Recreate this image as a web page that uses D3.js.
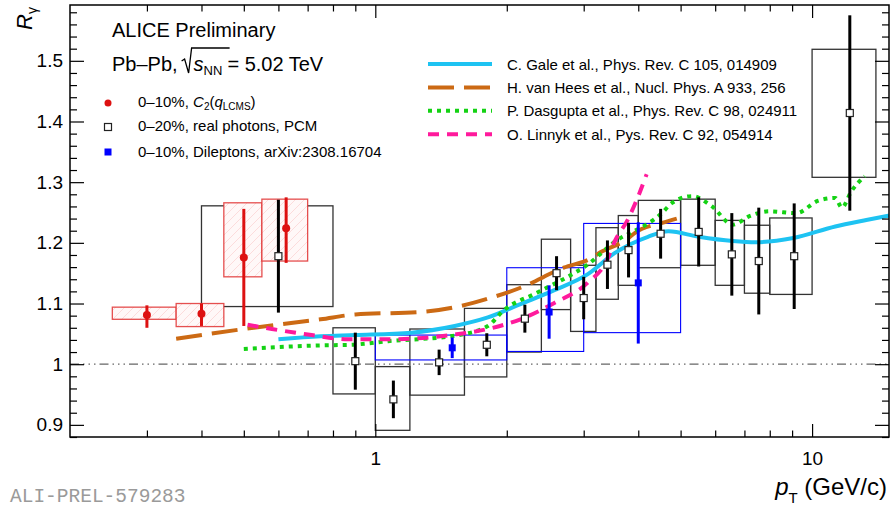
<!DOCTYPE html>
<html><head><meta charset="utf-8">
<script src="https://cdn.jsdelivr.net/npm/d3@7"></script>
<style>
body{margin:0;background:#fff}
text{font-family:"Liberation Sans",Arial,Helvetica,sans-serif;fill:#000}
</style>
</head><body>
<svg id="c" width="895" height="507"></svg>
<script>
// ---------------- data ----------------
// ALICE PCM real photons, 0-20%
const pcmX     = [0.6, 0.9, 1.1, 1.4, 1.8, 2.2, 2.6, 3.0, 3.4, 3.8, 4.5, 5.5, 6.55, 7.55, 9.1, 12.2];
const pcmBinLo = [0.4, 0.8, 1.0, 1.2, 1.6, 2.0, 2.4, 2.8, 3.2, 3.6, 4.0, 5.0, 6.0, 7.0, 8.0, 10];
const pcmBinHi = [0.8, 1.0, 1.2, 1.6, 2.0, 2.4, 2.8, 3.2, 3.6, 4.0, 5.0, 6.0, 7.0, 8.0, 10, 14];
const pcmY     = [1.178,1.005,0.942,1.003,1.032,1.075,1.150,1.109,1.164,1.188,1.215,1.218,1.181,1.170,1.178,1.414];
const pcmStat  = [0.093,0.047,0.031,0.021,0.019,0.023,0.028,0.035,0.040,0.045,0.041,0.057,0.068,0.088,0.087,0.161];
const pcmSysLo = [1.095,0.951,0.891,0.949,0.979,1.020,1.090,1.054,1.107,1.130,1.159,1.163,1.130,1.117,1.115,1.308];
const pcmSysHi = [1.261,1.060,0.996,1.058,1.092,1.131,1.206,1.163,1.225,1.245,1.270,1.272,1.237,1.229,1.241,1.519];

// C2(q_LCMS), 0-10%
const c2X      = [0.30, 0.40, 0.50, 0.625];
const c2BinLo  = [0.25, 0.35, 0.45, 0.55];
const c2BinHi  = [0.35, 0.45, 0.55, 0.70];
const c2Y      = [1.081, 1.083, 1.176, 1.224];
const c2StatUp = [0.016, 0.017, 0.080, 0.051];
const c2StatDn = [0.021, 0.020, 0.113, 0.057];
const c2SysLo  = [1.074, 1.062, 1.144, 1.170];
const c2SysHi  = [1.094, 1.100, 1.266, 1.272];

// Dileptons, 0-10%
const dilX     = [1.5, 2.5, 4.0];
const dilBinLo = [1, 2, 3];
const dilBinHi = [2, 3, 5];
const dilY     = [1.027, 1.086, 1.134];
const dilStat  = [0.017, 0.044, 0.100];
const dilSysLo = [1.007, 1.021, 1.052];
const dilSysHi = [1.048, 1.159, 1.232];

// theory curves [pT, R_gamma]
const galeCurve = [[0.60,1.041],[0.75,1.046],[0.90,1.048],[1.21,1.052],[1.52,1.063],[1.81,1.077],[2.15,1.099],[2.57,1.122],[3.06,1.148],[3.53,1.183],[4.21,1.210],[4.69,1.219],[5.5,1.210],[6.58,1.203],[7.44,1.201],[9.06,1.208],[11.3,1.227],[13.4,1.238],[15,1.245]];
const vanHeesCurve = [[0.35,1.042],[0.50,1.058],[0.75,1.074],[0.90,1.082],[1.27,1.086],[1.57,1.096],[1.81,1.108],[2.15,1.126],[2.70,1.159],[3.13,1.175],[3.27,1.184],[3.77,1.206],[3.94,1.217],[4.54,1.233],[4.9,1.240]];
const dasguptaCurve = [[0.50,1.025],[0.75,1.031],[0.88,1.032],[1.07,1.038],[1.52,1.047],[1.81,1.063],[1.97,1.089],[2.35,1.118],[3.06,1.164],[3.64,1.208],[3.86,1.217],[4.53,1.249],[4.78,1.266],[5.31,1.277],[5.9,1.260],[6.58,1.230],[7.19,1.244],[7.99,1.252],[9.2,1.249],[10.3,1.269],[11.3,1.274],[11.7,1.258],[12.3,1.285],[13.2,1.310]];
const linnykCurve = [[0.51,1.065],[0.58,1.058],[0.715,1.048],[0.866,1.041],[1.07,1.041],[1.52,1.049],[1.81,1.058],[2.15,1.074],[2.57,1.101],[3.06,1.134],[3.40,1.173],[3.52,1.200],[3.79,1.239],[4.0,1.277],[4.18,1.313]];

const yMajorTicks = [0.9, 1.0, 1.1, 1.2, 1.3, 1.4, 1.5];
const yTickLabels = ["0.9", "1", "1.1", "1.2", "1.3", "1.4", "1.5"];
const xMajorTicks = [1, 10];
const xTickLabels = ["1", "10"];
const xMinorTicks = [0.3,0.4,0.5,0.6,0.7,0.8,0.9,2,3,4,5,6,7,8,9];

const modelLabels = ["C. Gale et al., Phys. Rev. C 105, 014909",
                     "H. van Hees et al., Nucl. Phys. A 933, 256",
                     "P. Dasgupta et al., Phys. Rev. C 98, 024911",
                     "O. Linnyk et al., Pys. Rev. C 92, 054914"];

// ---------------- chart ----------------
const svg = d3.select("#c");
const L = 70, R = 889, T = 5, B = 437;
const x = d3.scaleLog().domain([0.2, 15]).range([L, R]);
const y = d3.scaleLinear().domain([0.88, 1.592]).range([B, T]);

const RED = "#dd1111", BLUE = "#0000ff";
const styles = [
  {color:"#1ec3f2", width:4, dash:null},
  {color:"#cc6a14", width:4, dash:"26,10"},
  {color:"#14d214", width:4, dash:"4,5"},
  {color:"#ff1a9c", width:4, dash:"11,8"}
];
const curves = [galeCurve, vanHeesCurve, dasguptaCurve, linnykCurve];

// hatch pattern
const defs = svg.append("defs");
const pat = defs.append("pattern").attr("id","hatch").attr("patternUnits","userSpaceOnUse")
  .attr("width",9).attr("height",9);
pat.append("rect").attr("width",9).attr("height",9).attr("fill","#fff8f8");
pat.append("path").attr("d","M0,9 L9,0 M-2,2 L2,-2 M7,11 L11,7")
  .attr("stroke","#fbd0d0").attr("stroke-width",0.7);
defs.append("clipPath").attr("id","plotclip").append("rect")
  .attr("x",L).attr("y",T).attr("width",R-L).attr("height",B-T);

const plot = svg.append("g").attr("clip-path","url(#plotclip)");

// reference line at 1
plot.append("line").attr("x1",L).attr("x2",R).attr("y1",y(1)).attr("y2",y(1))
  .attr("stroke","#666").attr("stroke-width",1.2).attr("stroke-dasharray","9,4,1.5,4,1.5,4,1.5,4");

// PCM systematic boxes
plot.append("g").selectAll("rect").data(pcmX).join("rect")
  .attr("x",(d,i)=>x(pcmBinLo[i])).attr("width",(d,i)=>x(pcmBinHi[i])-x(pcmBinLo[i]))
  .attr("y",(d,i)=>y(pcmSysHi[i])).attr("height",(d,i)=>y(pcmSysLo[i])-y(pcmSysHi[i]))
  .attr("fill","none").attr("stroke","#333").attr("stroke-width",1.3);

// Dilepton boxes
plot.append("g").selectAll("rect").data(dilX).join("rect")
  .attr("x",(d,i)=>x(dilBinLo[i])).attr("width",(d,i)=>x(dilBinHi[i])-x(dilBinLo[i]))
  .attr("y",(d,i)=>y(dilSysHi[i])).attr("height",(d,i)=>y(dilSysLo[i])-y(dilSysHi[i]))
  .attr("fill","none").attr("stroke",BLUE).attr("stroke-width",1.1);

// C2 boxes
plot.append("g").selectAll("rect").data(c2X).join("rect")
  .attr("x",(d,i)=>x(c2BinLo[i])).attr("width",(d,i)=>x(c2BinHi[i])-x(c2BinLo[i]))
  .attr("y",(d,i)=>y(c2SysHi[i])).attr("height",(d,i)=>y(c2SysLo[i])-y(c2SysHi[i]))
  .attr("fill","url(#hatch)").attr("stroke","#e03030").attr("stroke-width",1.3).attr("stroke-opacity",0.85);

// curves
const line = d3.line().x(d=>x(d[0])).y(d=>y(d[1])).curve(d3.curveMonotoneX);
curves.forEach((c,i)=>{
  plot.append("path").datum(c).attr("d",line).attr("fill","none")
    .attr("stroke",styles[i].color).attr("stroke-width",styles[i].width)
    .attr("stroke-dasharray",styles[i].dash);
});

// stat error bars
plot.append("g").selectAll("line").data(c2X).join("line")
  .attr("x1",d=>x(d)).attr("x2",d=>x(d))
  .attr("y1",(d,i)=>y(c2Y[i]+c2StatUp[i])).attr("y2",(d,i)=>y(c2Y[i]-c2StatDn[i]))
  .attr("stroke",RED).attr("stroke-width",3);
plot.append("g").selectAll("line").data(pcmX).join("line")
  .attr("x1",d=>x(d)).attr("x2",d=>x(d))
  .attr("y1",(d,i)=>y(pcmY[i]+pcmStat[i])).attr("y2",(d,i)=>y(pcmY[i]-pcmStat[i]))
  .attr("stroke","#000").attr("stroke-width",3);
plot.append("g").selectAll("line").data(dilX).join("line")
  .attr("x1",d=>x(d)).attr("x2",d=>x(d))
  .attr("y1",(d,i)=>y(dilY[i]+dilStat[i])).attr("y2",(d,i)=>y(dilY[i]-dilStat[i]))
  .attr("stroke",BLUE).attr("stroke-width",3);

// markers
plot.append("g").selectAll("circle").data(c2X).join("circle")
  .attr("cx",d=>x(d)).attr("cy",(d,i)=>y(c2Y[i])).attr("r",4).attr("fill",RED);
plot.append("g").selectAll("rect").data(pcmX).join("rect")
  .attr("x",d=>x(d)-3.5).attr("y",(d,i)=>y(pcmY[i])-3.5).attr("width",7).attr("height",7)
  .attr("fill","#fff").attr("stroke","#222").attr("stroke-width",1.2);
plot.append("g").selectAll("rect").data(dilX).join("rect")
  .attr("x",d=>x(d)-3.5).attr("y",(d,i)=>y(dilY[i])-3.5).attr("width",7).attr("height",7)
  .attr("fill",BLUE);

// ---------------- axes ----------------
const yMinor = d3.range(0, 36).map(k => +(0.88 + 0.02*k).toFixed(2)).filter(v => v <= 1.59 && yMajorTicks.indexOf(v) < 0);
function axisStyle(g){ g.select(".domain").remove(); g.selectAll(".tick line").attr("stroke","#000").attr("stroke-width",1.2); }

svg.append("g").attr("transform",`translate(0,${B})`)
  .call(d3.axisBottom(x).tickValues(xMajorTicks).tickSize(-13).tickPadding(15)
        .tickFormat((d,i)=>xTickLabels[i]))
  .call(axisStyle).selectAll("text").attr("font-size",19).attr("font-family","Liberation Sans, Arial, sans-serif");
svg.append("g").attr("transform",`translate(0,${B})`)
  .call(d3.axisBottom(x).tickValues(xMinorTicks).tickSize(-6.5).tickFormat("")).call(axisStyle);
svg.append("g").attr("transform",`translate(0,${T})`)
  .call(d3.axisTop(x).tickValues(xMajorTicks).tickSize(-13).tickFormat("")).call(axisStyle);
svg.append("g").attr("transform",`translate(0,${T})`)
  .call(d3.axisTop(x).tickValues(xMinorTicks).tickSize(-6.5).tickFormat("")).call(axisStyle);

svg.append("g").attr("transform",`translate(${L},0)`)
  .call(d3.axisLeft(y).tickValues(yMajorTicks).tickSize(-14).tickPadding(7)
        .tickFormat((d,i)=>yTickLabels[i]))
  .call(axisStyle).selectAll("text").attr("font-size",19).attr("font-family","Liberation Sans, Arial, sans-serif");
svg.append("g").attr("transform",`translate(${L},0)`)
  .call(d3.axisLeft(y).tickValues(yMinor).tickSize(-7).tickFormat("")).call(axisStyle);
svg.append("g").attr("transform",`translate(${R},0)`)
  .call(d3.axisRight(y).tickValues(yMajorTicks).tickSize(-14).tickFormat("")).call(axisStyle);
svg.append("g").attr("transform",`translate(${R},0)`)
  .call(d3.axisRight(y).tickValues(yMinor).tickSize(-7).tickFormat("")).call(axisStyle);

// frame
svg.append("rect").attr("x",L).attr("y",T).attr("width",R-L).attr("height",B-T)
  .attr("fill","none").attr("stroke","#000").attr("stroke-width",1.5);

// axis titles
const yt = svg.append("text").attr("transform","translate(32,7) rotate(-90)")
  .attr("text-anchor","end").attr("font-size",22);
yt.append("tspan").attr("font-style","italic").text("R");
yt.append("tspan").attr("font-size",14).attr("dy",5).text("γ");

const xt = svg.append("text").attr("x",887).attr("y",495).attr("text-anchor","end").attr("font-size",24);
xt.append("tspan").attr("font-style","italic").text("p");
xt.append("tspan").attr("font-size",15).attr("dy",8).text("T");
xt.append("tspan").attr("dy",-8).text(" (GeV/c)");

svg.append("text").attr("x",10).attr("y",502).attr("font-size",19.5)
  .style("font-family","'Liberation Mono','DejaVu Sans Mono',monospace").style("fill","#9a9a9a")
  .text("ALI-PREL-579283");

// ---------------- legends ----------------
svg.append("text").attr("x",112).attr("y",37).attr("font-size",20).text("ALICE Preliminary");
// Pb-Pb line
const t1 = svg.append("text").attr("x",112).attr("y",71).attr("font-size",20).text("Pb–Pb,");
const w1 = t1.node().getComputedTextLength();
const sx = 112 + w1 + 4;
svg.append("path").attr("d",`M${sx},61 L${sx+3},59 L${sx+7},73 L${sx+10},48 L${sx+48},48`)
  .attr("fill","none").attr("stroke","#000").attr("stroke-width",1.3);
const t2 = svg.append("text").attr("x",sx+12).attr("y",71).attr("font-size",20);
t2.append("tspan").attr("font-style","italic").text("s");
t2.append("tspan").attr("font-size",13).attr("dy",4).text("NN");
const w2 = t2.node().getComputedTextLength();
svg.append("text").attr("x",sx+12+w2+5).attr("y",71).attr("font-size",20).text("= 5.02 TeV");

// marker legend
svg.append("circle").attr("cx",108).attr("cy",103).attr("r",3.5).attr("fill",RED);
svg.append("rect").attr("x",104.5).attr("y",123.5).attr("width",7).attr("height",7)
  .attr("fill","#fff").attr("stroke","#222").attr("stroke-width",1.2);
svg.append("rect").attr("x",104.5).attr("y",148.5).attr("width",7).attr("height",7).attr("fill",BLUE);
const l1 = svg.append("text").attr("x",138).attr("y",107).attr("font-size",15);
l1.append("tspan").text("0–10%, ");
l1.append("tspan").attr("font-style","italic").text("C");
l1.append("tspan").attr("font-size",10).attr("dy",3).text("2");
l1.append("tspan").attr("dy",-3).text("(");
l1.append("tspan").attr("font-style","italic").text("q");
l1.append("tspan").attr("font-size",10).attr("dy",3).text("LCMS");
l1.append("tspan").attr("dy",-3).text(")");
svg.append("text").attr("x",138).attr("y",131).attr("font-size",15).text("0–20%, real photons, PCM");
svg.append("text").attr("x",138).attr("y",157).attr("font-size",15).text("0–10%, Dileptons, arXiv:2308.16704");

// model legend
const legY = [64, 87.5, 110.8, 134.2];
modelLabels.forEach((lab,i)=>{
  svg.append("line").attr("x1",428).attr("x2",492).attr("y1",legY[i]).attr("y2",legY[i])
    .attr("stroke",styles[i].color).attr("stroke-width",styles[i].width)
    .attr("stroke-dasharray",styles[i].dash);
  svg.append("text").attr("x",507).attr("y",legY[i]+5.5).attr("font-size",15).text(lab);
});
</script>
</body></html>
